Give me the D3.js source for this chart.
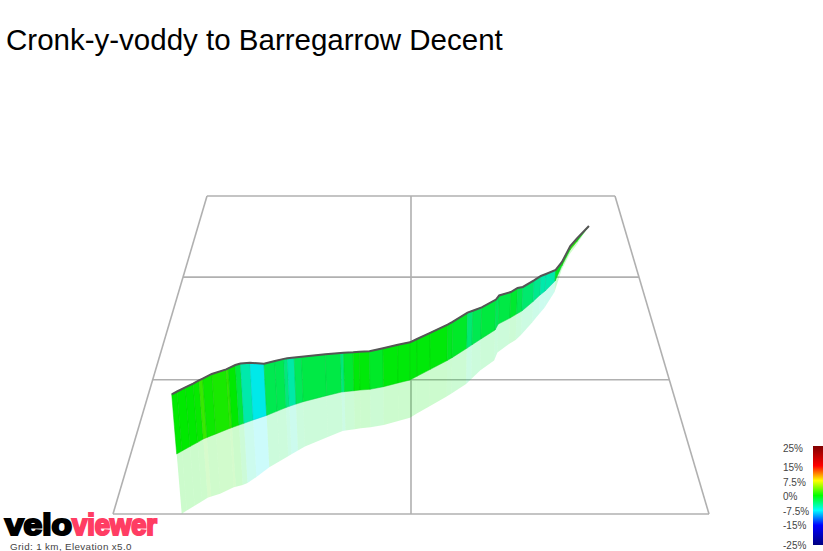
<!DOCTYPE html>
<html>
<head>
<meta charset="utf-8">
<script src="https://cdnjs.cloudflare.com/ajax/libs/d3/7.8.5/d3.min.js"></script>
<style>
  body { margin: 0; background: #fff; overflow: hidden; }
  text { font-family: "Liberation Sans", Arial, sans-serif; }
</style>
</head>
<body>
<div class="canvas"></div>
<script>
// route footprint on the grid (km), height above the floor (m), gradient of each stretch (%)
const gridX = [-0.836,-0.820,-0.795,-0.771,-0.753,-0.741,-0.711,-0.664,-0.657,-0.633,-0.616,-0.584,-0.537,-0.500,-0.469,-0.457,-0.433,-0.407,-0.321,-0.265,-0.254,-0.218,-0.195,-0.157,-0.106,-0.050,-0.004,0.023,0.074,0.143,0.163,0.224,0.246,0.284,0.345,0.361,0.412,0.442,0.466,0.519,0.553,0.578,0.629,0.671,0.723,0.762,0.836];
const gridDepth = [0.412,0.434,0.467,0.498,0.523,0.535,0.562,0.605,0.611,0.630,0.644,0.670,0.706,0.740,0.769,0.779,0.797,0.816,0.866,0.896,0.899,0.907,0.913,0.919,0.941,0.973,0.998,1.030,1.089,1.169,1.195,1.281,1.313,1.368,1.454,1.512,1.571,1.611,1.642,1.739,1.807,1.849,1.958,2.124,2.310,2.409,2.604];
const elevation = [42.6,42.6,42.6,42.5,42.5,42.8,43.7,43.2,43.4,44.2,44.0,42.3,38.5,37.4,36.5,36.1,35.0,33.9,31.4,29.8,29.7,29.4,29.3,29.1,29.5,29.4,29.2,29.0,28.8,28.4,28.4,28.6,27.5,25.7,25.0,23.6,21.7,21.8,20.2,17.9,16.3,14.7,9.6,3.6,3.6,3.0,0];
const gradient = [0,0,0,0.2,1.8,0.4,0.8,1.5,0,-2,-5.5,-7.5,-2.6,-2.6,-4,-5.4,-2.8,-2.2,-2.2,-4,-1.6,-0.3,-0.3,-1.3,-0.3,-0.3,-0.3,-0.3,-0.3,-1,-1.3,-3.7,-2.6,-2,-2.8,-2.2,-1.5,-2.5,-3.5,-4.5,-5.5,-5.5,-1,0,1,0];

const gridXTicks = [-1,0,1];
const gridDepthTicks = [0,1,2,3];
const legendTicks = [25,15,7.5,0,-7.5,-15,-25];
const legendStops = [-25,-15,-7.5,0,7.5,15,25];
const legendColors = ['#000080','#0000ff','#00ffff','#00ff00','#ffff00','#ff0000','#800000'];

const width = 823, height = 551;

const svg = d3.select('.canvas')
  .append('svg')
   .attr('width', width)
   .attr('height', height)
   .style('display', 'block');

// perspective: things further back shrink towards the vanishing point
const centreX = 411, vanishY = -494, floorH = 1008, kmPx = 298, mPx = 1.49, lean = 2800;
const depthScale = d => 1 / (1 + 0.1536 * d);
const project = (x, d, z) => {
  const s = depthScale(d);
  const bx = centreX + x * kmPx * s;
  const by = vanishY + floorH * s;
  const h = z * mPx * s;
  return [bx + (bx - centreX) * h / lean, by - h];
};

const color = d3.scaleLinear().domain(legendStops).range(legendColors);
const shaded = g => d3.color(color(g)).darker(0.25).formatHex();

// floor grid
const gridLine = d3.line();
const gridG = svg.append('g').attr('fill', 'none').attr('stroke', '#b0b0b0').attr('stroke-width', 1.6);
gridDepthTicks.forEach(d => {
  gridG.append('path').attr('d', gridLine([project(-1, d, 0), project(1, d, 0)]));
});
gridXTicks.forEach(x => {
  gridG.append('path').attr('d', gridLine([project(x, 0, 0), project(x, 3, 0)]));
});

const segments = d3.range(gradient.length);

const quad = (i, sign) => gridLine([
  project(gridX[i], gridDepth[i], 0),
  project(gridX[i + 1], gridDepth[i + 1], 0),
  project(gridX[i + 1], gridDepth[i + 1], sign * elevation[i + 1]),
  project(gridX[i], gridDepth[i], sign * elevation[i])
]) + 'Z';

// reflection under the floor
svg.append('g').selectAll('path')
  .data(segments)
  .join('path')
   .attr('d', i => quad(i, -1))
   .attr('fill', i => shaded(gradient[i]))
   .attr('fill-opacity', 0.2);

// elevation wall
svg.append('g').selectAll('path')
  .data(segments)
  .join('path')
   .attr('d', i => quad(i, 1))
   .attr('fill', i => shaded(gradient[i]))
   .attr('stroke', i => d3.color(shaded(gradient[i])).darker(0.35).formatHex())
   .attr('stroke-width', 0.5);

// ridge line
svg.append('path')
  .attr('d', gridLine(gridX.map((x, i) => project(x, gridDepth[i], elevation[i]))))
  .attr('fill', 'none')
  .attr('stroke', '#555')
  .attr('stroke-width', 2);

// title
svg.append('text')
  .attr('x', 6).attr('y', 50)
  .attr('font-size', 29.5)
  .attr('fill', '#000')
  .text('Cronk-y-voddy to Barregarrow Decent');

// gradient legend
const legendY = d3.scaleLinear().domain([25,-25]).range([446,545]);
const labelY = d3.scaleLinear().domain([25,-25]).range([451.5,548.8]);
const defs = svg.append('defs');
const grad = defs.append('linearGradient')
  .attr('id', 'legendGrad')
  .attr('x1', 0).attr('y1', 1).attr('x2', 0).attr('y2', 0);
legendStops.forEach((g, i) => {
  grad.append('stop')
    .attr('offset', (g + 25) / 50)
    .attr('stop-color', legendColors[i]);
});
svg.append('rect')
  .attr('x', 813).attr('y', legendY(25))
  .attr('width', 10).attr('height', legendY(-25) - legendY(25))
  .attr('fill', 'url(#legendGrad)');
svg.append('g').selectAll('text')
  .data(legendTicks)
  .join('text')
   .attr('x', 783)
   .attr('y', d => labelY(d))
   .attr('font-size', 10)
   .attr('fill', '#444')
   .text(d => d + '%');

// logo
const logo = svg.append('g').attr('font-size', 29).attr('font-weight', 700).attr('stroke-width', 2.2);
logo.append('text')
  .attr('x', 5).attr('y', 535)
  .attr('fill', '#000').attr('stroke', '#000')
  .attr('textLength', 67).attr('lengthAdjust', 'spacingAndGlyphs')
  .text('velo');
logo.append('text')
  .attr('x', 72).attr('y', 535)
  .attr('fill', '#ff3d63').attr('stroke', '#ff3d63')
  .attr('textLength', 85).attr('lengthAdjust', 'spacingAndGlyphs')
  .text('viewer');

svg.append('text')
  .attr('x', 10).attr('y', 550)
  .attr('font-size', 9.8)
  .attr('letter-spacing', 0.37)
  .attr('fill', '#444')
  .text('Grid: 1 km, Elevation x5.0');
</script>
</body>
</html>
